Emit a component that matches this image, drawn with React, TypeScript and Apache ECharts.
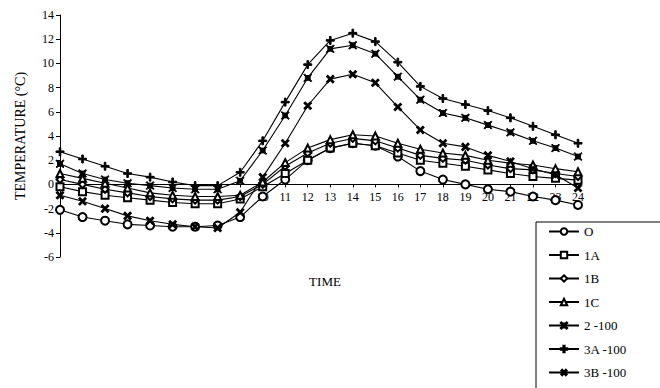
import React, { useEffect, useRef } from "react";
import * as echarts from "echarts";

const hours = ["1","2","3","4","5","6","7","8","9","10","11","12","13","14","15","16","17","18","19","20","21","22","23","24"];

const seriesNames = ["O", "1A", "1B", "1C", "2 -100", "3A -100", "3B -100"];

const valsO = [-2.1, -2.7, -3.0, -3.3, -3.4, -3.5, -3.5, -3.4, -2.7, -1.0, 0.4, 2.0, 3.0, 3.4, 3.2, 2.3, 1.1, 0.4, 0.0, -0.4, -0.6, -1.0, -1.3, -1.7];
const vals1A = [-0.2, -0.6, -0.9, -1.1, -1.3, -1.5, -1.6, -1.6, -1.2, -0.2, 0.9, 2.0, 3.0, 3.4, 3.2, 2.6, 2.0, 1.75, 1.5, 1.2, 0.9, 0.65, 0.5, 0.35];
const vals1B = [0.4, 0.0, -0.4, -0.7, -1.0, -1.2, -1.3, -1.3, -1.0, 0.0, 1.5, 2.6, 3.4, 3.8, 3.6, 3.0, 2.4, 2.15, 2.0, 1.6, 1.3, 1.2, 0.9, 0.65];
const vals1C = [0.9, 0.5, 0.1, -0.3, -0.7, -0.9, -1.0, -1.0, -0.9, 0.2, 1.8, 3.0, 3.7, 4.1, 4.0, 3.4, 2.9, 2.6, 2.4, 2.0, 1.75, 1.6, 1.3, 1.05];
const vals2 = [1.7, 0.9, 0.4, 0.1, -0.1, -0.3, -0.4, -0.4, 0.3, 2.8, 5.7, 8.8, 11.2, 11.5, 10.8, 8.9, 7.0, 5.9, 5.5, 4.9, 4.3, 3.6, 3.0, 2.3];
const vals3A = [2.7, 2.1, 1.5, 0.9, 0.6, 0.2, -0.1, -0.1, 1.0, 3.6, 6.8, 9.9, 11.9, 12.5, 11.8, 10.1, 8.1, 7.1, 6.6, 6.1, 5.5, 4.8, 4.1, 3.4];
const vals3B = [-0.9, -1.4, -2.0, -2.6, -3.0, -3.3, -3.5, -3.6, -2.3, 0.6, 3.4, 6.5, 8.7, 9.1, 8.4, 6.4, 4.5, 3.4, 3.1, 2.4, 1.9, 1.3, 0.8, -0.3];

const yTicks = { min: -6, max: 14, interval: 2 };

const PLUS = "path://M4,0H6V4H10V6H6V10H4V6H0V4H4Z";
const STAR = "path://M0,1L1,0L5,4L9,0L10,1L6,5L10,9L9,10L5,6L1,10L0,9L4,5Z M2,2H8V8H2Z";

const FONT = "Liberation Serif";

export default function App() {
  const ref = useRef<HTMLDivElement>(null);
  useEffect(() => {
    if (!ref.current) return;
    const chart = echarts.init(ref.current, undefined, { renderer: "svg" });
    const mk = (name: string, data: number[], symbol: string, size: number, rotate = 0) => ({
      name,
      type: "line",
      data,
      symbol,
      symbolSize: size,
      symbolRotate: rotate,
      showAllSymbol: true,
      lineStyle: { color: "#000", width: 1.1 },
      itemStyle: { color: "#000", borderColor: "#000", borderWidth: 1 },
      emphasis: { disabled: true },
    });
    // plot height 242 px for 20 units => zero line 72.6 px above the bottom
    chart.setOption({
      animation: false,
      backgroundColor: "#fff",
      grid: { left: 60, right: 82, top: 15, bottom: 131, containLabel: false },
      xAxis: {
        type: "category",
        data: hours,
        boundaryGap: false,
        offset: -72.6,
        axisLine: { onZero: false, lineStyle: { color: "#000", width: 1 } },
        axisTick: { show: true, length: 3, inside: false, lineStyle: { color: "#000" } },
        axisLabel: {
          interval: 0,
          color: "#000",
          fontFamily: FONT,
          fontSize: 12,
          margin: 7,
          formatter: (v: string) => (Number(v) >= 10 ? v : ""),
        },
        splitLine: { show: false },
      },
      yAxis: {
        type: "value",
        min: yTicks.min,
        max: yTicks.max,
        interval: yTicks.interval,
        name: "TEMPERATURE (°C)",
        nameLocation: "middle",
        nameGap: 33,
        nameTextStyle: { color: "#000", fontFamily: FONT, fontSize: 14 },
        axisLine: { show: true, lineStyle: { color: "#000", width: 1 } },
        axisTick: { show: true, length: 4, lineStyle: { color: "#000" } },
        axisLabel: { color: "#000", fontFamily: FONT, fontSize: 12, margin: 6 },
        splitLine: { show: false },
      },
      legend: {
        orient: "vertical",
        left: 543,
        top: 220,
        itemWidth: 30,
        itemHeight: 8,
        itemGap: 10.5,
        textStyle: { color: "#000", fontFamily: FONT, fontSize: 13, lineHeight: 13 },
        data: seriesNames,
      },
      graphic: [
        {
          type: "rect",
          shape: { x: 536, y: 222, width: 140, height: 180 },
          style: { fill: "none", stroke: "#000", lineWidth: 1 },
          silent: true,
        },
        {
          type: "text",
          x: 325,
          y: 281,
          style: { text: "TIME", fill: "#000", font: `13px "${FONT}"`, align: "center", verticalAlign: "middle" },
        },
      ],
      series: [
        mk(seriesNames[0], valsO, "emptyCircle", 8),
        mk(seriesNames[1], vals1A, "emptyRect", 7),
        mk(seriesNames[2], vals1B, "emptyDiamond", 7),
        mk(seriesNames[3], vals1C, "emptyTriangle", 7),
        mk(seriesNames[4], vals2, STAR, 8),
        mk(seriesNames[5], vals3A, PLUS, 8),
        mk(seriesNames[6], vals3B, PLUS, 9, 45),
      ],
    });
    return () => chart.dispose();
  }, []);
  return <div ref={ref} style={{ width: 660, height: 388, position: "absolute", left: 0, top: 0 }} />;
}
